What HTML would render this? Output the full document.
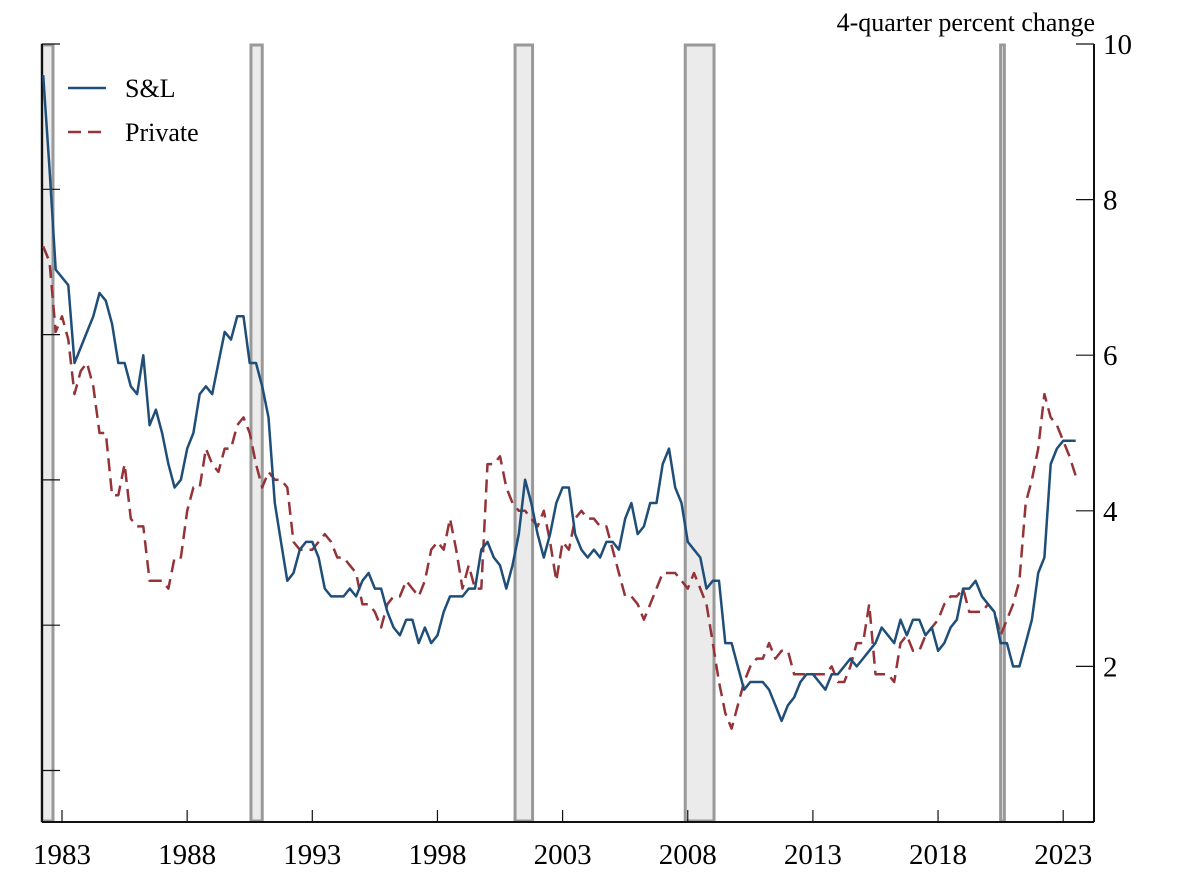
<!DOCTYPE html>
<html><head><meta charset="utf-8"><style>
html,body{margin:0;padding:0;background:#fff}
svg{display:block;font-family:"Liberation Serif",serif}
</style></head><body>
<svg id="chart" width="1200" height="885" viewBox="0 0 1200 885" xmlns="http://www.w3.org/2000/svg">
<g id="rec"></g>
<g id="axes"></g>
<g id="series"></g>
<g>
<line x1="68" y1="88" x2="106" y2="88" stroke="#1f4e79" stroke-width="2.5"/>
<text x="125" y="97" font-size="26">S&amp;L</text>
<line x1="68" y1="132" x2="106" y2="132" stroke="#943338" stroke-width="2.5" stroke-dasharray="13,7"/>
<text x="125" y="141" font-size="26">Private</text>
</g>
<text x="1095" y="31" font-size="26" text-anchor="end">4-quarter percent change</text>
</svg>
<script>
const startYear = 1982.25; // first observation 1982:Q2
const slValues = [9.6,8.4,7.1,7.0,6.9,5.9,6.1,6.3,6.5,6.8,6.7,6.4,5.9,5.9,5.6,5.5,6.0,5.1,5.3,5.0,4.6,4.3,4.4,4.8,5.0,5.5,5.6,5.5,5.9,6.3,6.2,6.5,6.5,5.9,5.9,5.6,5.2,4.1,3.6,3.1,3.2,3.5,3.6,3.6,3.4,3.0,2.9,2.9,2.9,3.0,2.9,3.1,3.2,3.0,3.0,2.7,2.5,2.4,2.6,2.6,2.3,2.5,2.3,2.4,2.7,2.9,2.9,2.9,3.0,3.0,3.5,3.6,3.4,3.3,3.0,3.3,3.7,4.4,4.1,3.7,3.4,3.7,4.1,4.3,4.3,3.7,3.5,3.4,3.5,3.4,3.6,3.6,3.5,3.9,4.1,3.7,3.8,4.1,4.1,4.6,4.8,4.3,4.1,3.6,3.5,3.4,3.0,3.1,3.1,2.3,2.3,2.0,1.7,1.8,1.8,1.8,1.7,1.5,1.3,1.5,1.6,1.8,1.9,1.9,1.8,1.7,1.9,1.9,2.0,2.1,2.0,2.1,2.2,2.3,2.5,2.4,2.3,2.6,2.4,2.6,2.6,2.4,2.5,2.2,2.3,2.5,2.6,3.0,3.0,3.1,2.9,2.8,2.7,2.3,2.3,2.0,2.0,2.3,2.6,3.2,3.4,4.6,4.8,4.9,4.9,4.9];
const privateValues = [7.4,7.2,6.3,6.5,6.2,5.5,5.8,5.9,5.6,5.0,5.0,4.2,4.2,4.6,3.9,3.8,3.8,3.1,3.1,3.1,3.0,3.4,3.4,4.0,4.3,4.3,4.8,4.6,4.5,4.8,4.8,5.1,5.2,5.0,4.6,4.3,4.5,4.4,4.4,4.3,3.6,3.5,3.5,3.5,3.6,3.7,3.6,3.4,3.4,3.3,3.2,2.8,2.8,2.7,2.5,2.8,2.9,2.9,3.1,3.0,2.9,3.1,3.5,3.6,3.5,3.9,3.5,3.0,3.3,3.0,3.0,4.6,4.6,4.7,4.3,4.1,4.0,4.0,3.9,3.8,4.0,3.6,3.1,3.6,3.5,3.9,4.0,3.9,3.9,3.8,3.8,3.5,3.2,2.9,2.9,2.8,2.6,2.8,3.0,3.2,3.2,3.2,3.1,3.0,3.2,3.0,2.8,2.3,1.8,1.4,1.2,1.5,1.8,2.0,2.1,2.1,2.3,2.1,2.2,2.2,1.9,1.9,1.9,1.9,1.9,1.9,2.0,1.8,1.8,2.0,2.3,2.3,2.8,1.9,1.9,1.9,1.8,2.3,2.4,2.2,2.2,2.4,2.5,2.6,2.8,2.9,2.9,3.0,2.7,2.7,2.7,2.8,2.7,2.4,2.6,2.8,3.1,4.1,4.4,4.8,5.5,5.2,5.1,4.9,4.7,4.45];
const recStarts = [1981.9, 1990.55, 2001.1, 2007.9, 2020.5];
const recEnds   = [1982.64, 1991.0, 2001.8, 2009.05, 2020.65];
const xTickYears = [1983,1988,1993,1998,2003,2008,2013,2018,2023];
const yTickValues = [2,4,6,8,10];

const L=42,R=1094,T=44,B=822;
const X = t => 62 + (t-1983)*25.03;
const Y = v => B - v*(B-T)/10;
const NS='http://www.w3.org/2000/svg';
function mk(tag,parent){const e=document.createElementNS(NS,tag);parent.appendChild(e);return e;}
const rec=document.getElementById('rec'), axes=document.getElementById('axes'), ser=document.getElementById('series');

recStarts.forEach((s,i)=>{
  const r=mk('rect',rec);
  
  
  const x0=Math.max(L,X(s)), x1=X(recEnds[i]);
  r.setAttribute('x',x0);r.setAttribute('y',T+1);r.setAttribute('width',Math.max(2,x1-x0));r.setAttribute('height',B-T-2);
  r.setAttribute('fill','#ebebeb');r.setAttribute('stroke','#999');r.setAttribute('stroke-width','3');
});

function line(x1,y1,x2,y2,w,name){const l=mk('line',axes);
  
  
  l.setAttribute('x1',x1);l.setAttribute('y1',y1);l.setAttribute('x2',x2);l.setAttribute('y2',y2);l.setAttribute('stroke','#111');l.setAttribute('stroke-width',w);}
line(L,T,L,B,2,'left-axis-line');
line(R,T,R,B,2,'right-axis-line');
line(L,B,R,B,2,'x-axis-line');
for(let k=0;k<6;k++){line(L,T+145.3*k,L+18,T+145.3*k,1.2,'left-axis-tick');}
yTickValues.forEach(v=>{
  line(R-18,Y(v),R,Y(v),1.2,'y-axis-tick');
  const t=mk('text',axes);
  
  
  t.setAttribute('x',1103);t.setAttribute('y',Y(v)+10);t.setAttribute('font-size','29');t.textContent=v;
});
xTickYears.forEach(yr=>{
  line(X(yr),B-12,X(yr),B,1.2,'x-axis-tick');
  const t=mk('text',axes);
  
  
  t.setAttribute('x',X(yr));t.setAttribute('y',864);t.setAttribute('font-size','29');t.setAttribute('text-anchor','middle');t.textContent=yr;
});

function path(vals,color,dash,name){
  const p=mk('polyline',ser);
  
  
  p.setAttribute('points',vals.map((v,i)=>X(startYear+i/4).toFixed(1)+','+Y(v).toFixed(1)).join(' '));
  p.setAttribute('fill','none');p.setAttribute('stroke',color);p.setAttribute('stroke-width','2.5');
  p.setAttribute('stroke-linejoin','round');
  if(dash)p.setAttribute('stroke-dasharray',dash);
}
path(privateValues,'#943338','13,7','private-line');
path(slValues,'#1f4e79',null,'sl-line');
</script>
</body></html>
